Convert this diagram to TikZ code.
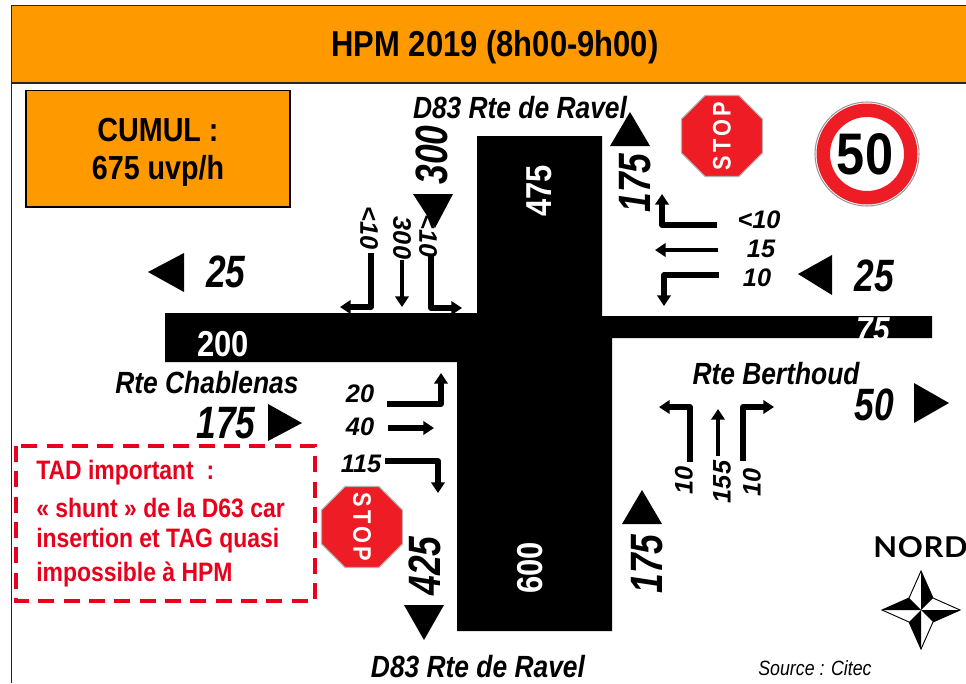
\documentclass[tikz,border=0pt]{standalone}
\usepackage{fontspec}
\usetikzlibrary{arrows.meta}
\setmainfont{Liberation Sans}
\newfontfamily\narrow[FakeStretch=0.86]{Liberation Sans}
\newfontfamily\narrowest[FakeStretch=0.78]{Liberation Sans}
\newfontfamily\plainwide{Liberation Sans}
\newfontfamily\flared[FakeStretch=1.08,LetterSpace=2.5]{Lato}
\newcommand{\fs}[1]{\fontsize{#1}{#1}\selectfont}
\definecolor{hdr}{HTML}{FF9900}
\definecolor{sign}{HTML}{EE1C25}
\definecolor{alert}{HTML}{E8001C}
\tikzset{
 x=0.75pt,y=-0.75pt,
 road/.style={fill=black,draw=none},
 tri/.style={fill=black,draw=none},
 flow/.style={line width=4pt,-{Triangle[length=8pt,width=10pt]},line join=round},
 thinflow/.style={line width=3.2pt,-{Triangle[length=8pt,width=10pt]}},
 big/.style={font=\narrowest\bfseries\itshape\fs{34},inner sep=0},
 small/.style={font=\plainwide\bfseries\itshape\fs{19},inner sep=0},
 road name/.style={font=\narrow\bfseries\itshape\fs{23},inner sep=0},
 onroad/.style={font=\narrow\bfseries\fs{27},text=white,inner sep=0},
 octagon/.style={fill=sign,draw=black!30,line width=0.8pt},
}
\newcommand{\stopsign}[3]{%
 \begin{scope}[shift={(#1,#2)}]
 \draw[octagon] (-40.5,-16.8) -- (-16.8,-40.5) -- (16.8,-40.5) -- (40.5,-16.8) -- (40.5,16.8) -- (16.8,40.5) -- (-16.8,40.5) -- (-40.5,16.8) -- cycle;
 \node[rotate=#3,text=white,inner sep=0,font=\narrow\bfseries\fs{19}] {S\kern2.2ptT\kern2.2ptO\kern2.2ptP};
 \end{scope}}
\begin{document}
\begin{tikzpicture}
\useasboundingbox (0,0) rectangle (966,683);
\fill[white] (0,0) rectangle (966,683);
% frame and title
\draw[line width=1.2pt,draw=black!85] (11.5,683) -- (11.5,5.5);
\draw[fill=hdr,line width=1.2pt,draw=black!85] (11.5,5.5) rectangle (970,83);
\node[font=\narrow\bfseries\fs{27},inner sep=0] (title) at (495,47) {HPM 2019 (8h00-9h00)};
\draw[fill=hdr,line width=1.2pt] (26,90.5) rectangle (290,207);
\node[font=\narrow\bfseries\fs{25},inner sep=0] (cumul) at (158,130) {CUMUL :};
\node[font=\narrow\bfseries\fs{25},inner sep=0] (cumulv) at (158,171) {675 uvp/h};
% roads
\fill[road] (477,136) -- (602,136) -- (602,316) -- (932,316) -- (932,338) -- (612,338) -- (612,631) -- (457,631) -- (457,362) -- (165,362) -- (165,313) -- (477,313) -- cycle;
\node[onroad,rotate=90] at (539,191) {475};
\node[onroad] at (223,344) {200};
\node[onroad,font=\narrow\bfseries\itshape\fs{26}] at (873,330) {75};
\node[onroad,rotate=90] at (530,568) {600};
% road names
\node[road name] at (520,108) {D83 Rte de Ravel};
\node[road name] at (478,667) {D83 Rte de Ravel};
\node[road name] at (207,383) {Rte Chablenas};
\node[road name] at (776,374) {Rte Berthoud};
\node[inner sep=0,font=\narrow\itshape\fs{15.5}] at (815,668) {Source : Citec};
% totals
\fill[tri] (148,272) -- (184,253) -- (184,292) -- cycle;
\node[big] at (226,272) {25};
\node[big,rotate=90] at (432,155) {300};
\fill[tri] (630,112) -- (650,146) -- (610,146) -- cycle;
\node[big,rotate=90] at (635,183) {175};
\fill[tri] (798,274) -- (832,255) -- (832,295) -- cycle;
\node[big] at (874,276) {25};
\fill[tri] (914,383) -- (949,403) -- (914,423) -- cycle;
\node[big] at (874,405) {50};
\fill[tri] (268,404) -- (302,423) -- (268,441) -- cycle;
\node[big] at (226,423) {175};
\node[big,rotate=90] at (425,566) {425};
\fill[tri] (404,605) -- (444,605) -- (424,640) -- cycle;
\fill[tri] (622,524) -- (662,524) -- (642,490) -- cycle;
\node[big,rotate=90] at (647,564) {175};
% north movements
\draw[flow] (371,253) -- (371,307) -- (340,307);
\draw[thinflow] (402,260) -- (402,307);
\draw[flow] (431,256) -- (431,308) -- (462,308);
\node[small,rotate=-90] at (369,228) {<10};
\node[small,rotate=-90] at (402,238) {300};
\node[small,rotate=-90] at (428,236) {<10};
\fill[tri] (413,194) -- (453,194) -- (435,228) -- cycle;
% east movements
\draw[flow] (717,225) -- (662,225) -- (662,194);
\draw[thinflow] (718,250) -- (655,250);
\draw[flow] (719,275) -- (664,275) -- (664,306);
\node[small] at (759,220) {<10};
\node[small] at (761,249) {15};
\node[small] at (757,278) {10};
% west movements
\draw[flow] (387,404) -- (441,404) -- (441,373);
\draw[flow] (388,428) -- (434,428);
\draw[flow] (385,461) -- (438,461) -- (438,493);
\node[small] at (360,394) {20};
\node[small] at (360,427) {40};
\node[small] at (361,464) {115};
% south movements
\draw[flow] (690,462) -- (690,407) -- (659,407);
\draw[thinflow] (718,456) -- (718,409);
\draw[flow] (743,461) -- (743,407) -- (774,407);
\node[small,rotate=90] at (684,480) {10};
\node[small,rotate=90] at (722,482) {155};
\node[small,rotate=90] at (752,482) {10};
% TAD box
\draw[alert,dash pattern=on 12pt off 7pt,line width=3pt] (16,446) rectangle (315,601);
\begin{scope}[every node/.style={anchor=west,inner sep=0,text=alert,font=\narrow\bfseries\fs{20}}]
\node at (36,473) {TAD important~ :};
\node at (36,508) {« shunt » de la D63 car};
\node at (36,541) {insertion et TAG quasi};
\node at (36,574) {impossible à HPM};
\end{scope}
% signs
\stopsign{722}{136}{90}
\stopsign{362}{527}{-90}
\draw[fill=white,draw=black!40,line width=0.8pt] (867,154) circle (52);
\fill[sign,even odd rule] (867,154) circle (50.5) (867,154) circle (37);
\node[inner sep=0,font=\narrow\bfseries\fs{44}] at (865,154) {50};
% north mark
\node[inner sep=0,anchor=west,font=\flared\bfseries\fs{21.5}] at (873,547) {NORD};
\begin{scope}[shift={(921,610)},line width=0.7pt,line join=miter]
\draw[fill=white] (0,-39) -- (-12,-12) -- (-39,0) -- (-12,12) -- (0,39) -- (12,12) -- (39,0) -- (12,-12) -- cycle;
\fill (0,0) -- (0,-39) -- (12,-12) -- cycle;
\fill (0,0) -- (39,0) -- (12,12) -- cycle;
\fill (0,0) -- (0,39) -- (-12,12) -- cycle;
\fill (0,0) -- (-39,0) -- (-12,-12) -- cycle;
\end{scope}
\end{tikzpicture}
\end{document}
